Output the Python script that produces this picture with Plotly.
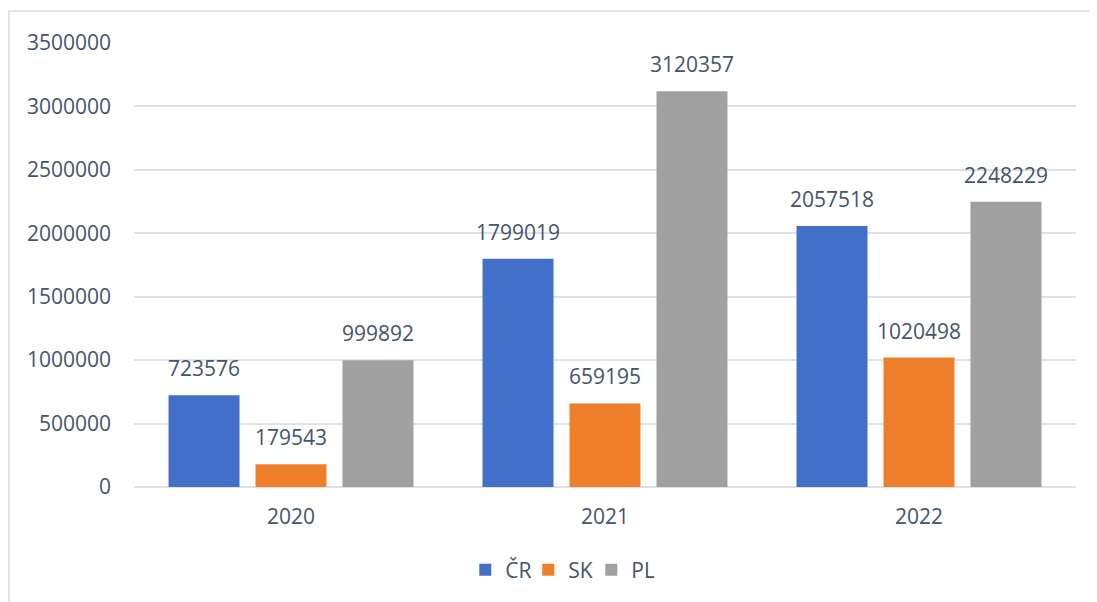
import plotly.graph_objects as go

years = ["2020", "2021", "2022"]
series_names = ["ČR", "SK", "PL"]
cr = [723576, 1799019, 2057518]
sk = [179543, 659195, 1020498]
pl = [999892, 3120357, 2248229]
colors = ["#4270c8", "#f07f2c", "#a0a0a0"]
tick_vals = [0, 500000, 1000000, 1500000, 2000000, 2500000, 3000000, 3500000]

TXT = "#46546a"
FONT = "Open Sans"
FS = 21

BARGAP = 0.169
GROUPGAP = 0.184

fig = go.Figure()
for name, vals, col in zip(series_names, [cr, sk, pl], colors):
    fig.add_trace(go.Bar(
        x=years, y=vals, name=name,
        marker=dict(color=col, line=dict(width=0)),
    ))

# value labels above each bar, placed through the category/value axes
slot = (1 - BARGAP) / len(series_names)
annotations = []
for i, vals in enumerate([cr, sk, pl]):
    for j, v in enumerate(vals):
        annotations.append(dict(
            x=j + (i - (len(series_names) - 1) / 2) * slot, y=v, xref="x", yref="y",
            text=str(v), showarrow=False, yanchor="bottom", yshift=11,
            font=dict(family=FONT, size=FS, color=TXT),
        ))

W, H = 1089, 594
L, R, T, B = 126, 21, 35, 115
pw = W - L - R
ph = H - T - B

fig.update_layout(
    width=W, height=H,
    margin=dict(l=L, r=R, t=T, b=B),
    paper_bgcolor="white", plot_bgcolor="white",
    barmode="group", bargap=BARGAP, bargroupgap=GROUPGAP,
    font=dict(family=FONT, size=FS, color=TXT),
    showlegend=True,
    legend=dict(orientation="h", x=0.452, xanchor="center", y=-83 / ph, yanchor="middle",
                font=dict(family=FONT, size=FS, color=TXT), traceorder="normal",
                entrywidth=18, itemwidth=30),
    xaxis=dict(showgrid=False, showline=False, ticks="", ticklabelstandoff=15,
               tickfont=dict(family=FONT, size=FS, color=TXT)),
    yaxis=dict(range=[0, 3500000], tickvals=tick_vals, ticktext=[str(v) for v in tick_vals],
               showgrid=True, gridcolor="#dde2e9", gridwidth=2, zeroline=True,
               zerolinecolor="#dde2e9", zerolinewidth=2, showline=False, ticks="",
               ticklabelstandoff=22, tickfont=dict(family=FONT, size=FS, color=TXT)),
    annotations=annotations,
    shapes=[dict(type="path", xref="paper", yref="paper",
                 path=f"M {(1 - L) / pw} {(T + ph - H - 10) / ph} L {(1 - L) / pw} {(T + ph - 3) / ph} L {(W + 10 - L) / pw} {(T + ph - 3) / ph}",
                 line=dict(color="#e1e5eb", width=2))],
)

fig.write_html("out.html")
